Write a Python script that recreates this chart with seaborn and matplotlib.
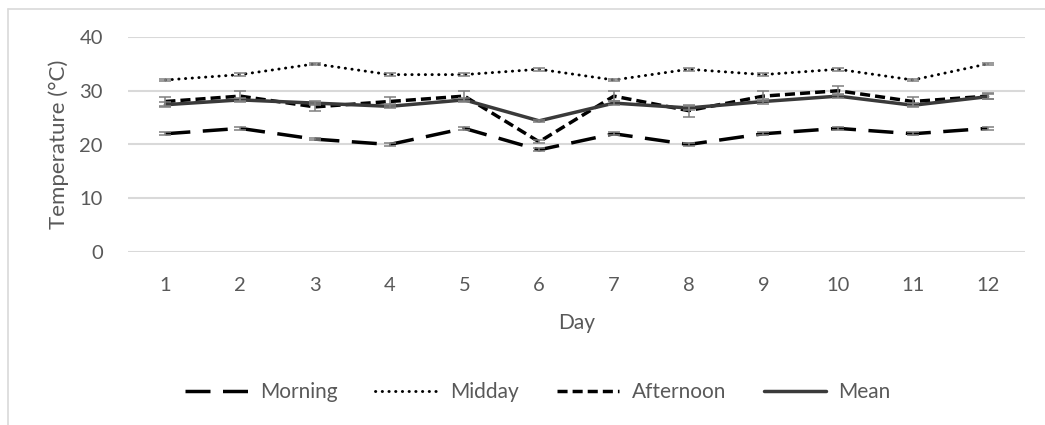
import matplotlib
matplotlib.use("Agg")
import matplotlib.pyplot as plt
from matplotlib.lines import Line2D
import seaborn as sns
import numpy as np

days = [1, 2, 3, 4, 5, 6, 7, 8, 9, 10, 11, 12]
morning = [22, 23, 21, 20, 23, 19, 22, 20, 22, 23, 22, 23]
midday = [32, 33, 35, 33, 33, 34, 32, 34, 33, 34, 32, 35]
afternoon = [28, 29, 27, 28, 29, 20.5, 29, 26.3, 29, 30, 28, 29]
mean = [27.4, 28.3, 27.7, 27.1, 28.3, 24.4, 27.7, 26.8, 28, 29, 27.3, 28.9]

morning_err = [0.3, 0.3, 0.2, 0.3, 0.3, 0.3, 0.3, 0.3, 0.3, 0.3, 0.3, 0.3]
midday_err = [0.25, 0.25, 0.25, 0.25, 0.25, 0.25, 0.25, 0.25, 0.25, 0.25, 0.25, 0.25]
afternoon_err = [0.8, 0.9, 0.7, 0.8, 0.9, 0.3, 0.9, 1.1, 0.9, 0.8, 0.8, 0.5]
mean_err = [0.5, 0.4, 0.4, 0.4, 0.4, 0.2, 0.4, 0.4, 0.4, 0.4, 0.4, 0.5]

series_names = ["Morning", "Midday", "Afternoon", "Mean"]
y_ticks = [0, 10, 20, 30, 40]

sns.set_theme(style="white")
plt.rcParams['font.family'] = ['Lato', 'DejaVu Sans']

TXT = "#595959"
GRID = "#d9d9d9"

fig = plt.figure(figsize=(10.45, 4.25), dpi=100)
ax = fig.add_axes([128 / 1045, 1 - 252 / 425, 897 / 1045, 215 / 425])

styles = {
    "Morning": dict(color="black", lw=2.5, ls=(0, (7.2, 3.6)), capstyle="butt"),
    "Midday": dict(color="black", lw=2.1, ls=(0, (0.1, 2.2)), capstyle="round"),
    "Afternoon": dict(color="black", lw=2.5, ls=(0, (2.9, 1.45)), capstyle="butt"),
    "Mean": dict(color="#3a3a3a", lw=2.5, ls="-", capstyle="butt"),
}
values = {"Morning": morning, "Midday": midday, "Afternoon": afternoon, "Mean": mean}
errs = {"Morning": morning_err, "Midday": midday_err, "Afternoon": afternoon_err, "Mean": mean_err}

handles = []
for name in series_names:
    st = styles[name]
    sns.lineplot(x=days, y=values[name], ax=ax, color=st["color"], lw=st["lw"],
                 linestyle=st["ls"], dash_capstyle=st["capstyle"], zorder=2)
    ax.errorbar(days, values[name], yerr=errs[name], fmt="none", ecolor="#7f7f7f",
                elinewidth=1.1, capsize=4, capthick=1.1, zorder=3)
    handles.append(Line2D([0], [0], color=st["color"], lw=st["lw"], linestyle=st["ls"],
                          dash_capstyle=st["capstyle"]))

ax.set_xlim(0.5, 12.5)
ax.set_ylim(0, 40)
ax.set_xticks(days)
ax.set_xticklabels([str(d) for d in days])
ax.set_yticks(y_ticks)
ax.yaxis.grid(True, color=GRID, lw=1.5)
ax.xaxis.grid(False)
for s in ax.spines.values():
    s.set_visible(False)
ax.tick_params(axis="both", length=0, labelsize=14.5, labelcolor=TXT)
ax.tick_params(axis="y", pad=18)
ax.tick_params(axis="x", pad=18)

ax.set_xlabel("Day", fontsize=15, color=TXT)
ax.set_ylabel("Temperature (°C)", fontsize=16, color=TXT)
ax.xaxis.set_label_coords(0.5, -0.285)
ax.yaxis.set_label_coords(-0.066, 0.5)

fig.legend(handles, series_names, loc="center", bbox_to_anchor=(538 / 1045, 1 - 392 / 425),
           ncol=4, frameon=False, fontsize=15, labelcolor=TXT, handlelength=3.0,
           handletextpad=0.6, columnspacing=1.8)

# outer chart-area border (cropped at right/bottom)
fig.add_artist(Line2D([7.5 / 1045, 7.5 / 1045], [0, 1 - 8.5 / 425], color=GRID, lw=1.2,
                      transform=fig.transFigure))
fig.add_artist(Line2D([7.5 / 1045, 1], [1 - 8.5 / 425, 1 - 8.5 / 425], color=GRID, lw=1.2,
                      transform=fig.transFigure))

fig.savefig("out.png", dpi=100)
